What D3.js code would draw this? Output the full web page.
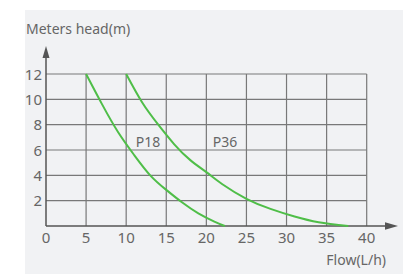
<!DOCTYPE html>
<html>
<head>
<meta charset="utf-8">
<script src="https://cdn.jsdelivr.net/npm/d3@7"></script>
<style>
  body { margin: 0; background: #fff; }
  text { font-family: "Noto Sans", "Open Sans", sans-serif; fill: #666; }
</style>
</head>
<body>
<script>
// curve data
var p18Flow = [5, 7, 9, 11, 13, 15, 17, 19, 21, 22.3]
var p18Head = [12, 9.6, 7.4, 5.6, 4.0, 2.85, 1.85, 1.0, 0.35, 0]
var p36Flow = [10, 12, 14, 16, 18, 20, 22, 25, 28, 31, 34, 37.7]
var p36Head = [12, 9.75, 8.0, 6.45, 5.2, 4.25, 3.3, 2.15, 1.35, 0.75, 0.3, 0]
var xTicks = [0, 5, 10, 15, 20, 25, 30, 35, 40]
var yTicks = [2, 4, 6, 8, 10, 12]
var curveNames = ["P18", "P36"]
var labelFlow = [11.2, 20.8]

var width = 411, height = 274
var svg = d3.select("body").append("svg")
  .attr("width", width)
  .attr("height", height)

svg.append("rect")
  .attr("x", 25).attr("y", 10)
  .attr("width", 378).attr("height", 264)
  .attr("fill", "#f1f2f4")

var x = d3.scaleLinear().domain([0, 40]).range([46, 366.7])
var y = d3.scaleLinear().domain([0, 12]).range([226, 74])

// grid
svg.append("g").selectAll("line")
  .data(xTicks.slice(1))
  .join("line")
  .attr("x1", d => x(d)).attr("x2", d => x(d))
  .attr("y1", y(0)).attr("y2", y(12))
  .attr("stroke", "#787878")
  .attr("stroke-width", 1.2)

svg.append("g").selectAll("line")
  .data(yTicks)
  .join("line")
  .attr("x1", x(0)).attr("x2", x(40))
  .attr("y1", d => y(d)).attr("y2", d => y(d))
  .attr("stroke", "#787878")
  .attr("stroke-width", 1.2)

// axes with arrows
var axisColor = "#555"
svg.append("line")
  .attr("x1", x(0)).attr("x2", 390)
  .attr("y1", y(0)).attr("y2", y(0))
  .attr("stroke", axisColor).attr("stroke-width", 1.5)
svg.append("path")
  .attr("d", d3.line()([[385, y(0) - 3.8], [398, y(0)], [385, y(0) + 3.8]]) + "Z")
  .attr("fill", axisColor)

svg.append("line")
  .attr("x1", x(0)).attr("x2", x(0))
  .attr("y1", y(0)).attr("y2", 52)
  .attr("stroke", axisColor).attr("stroke-width", 1.5)
svg.append("path")
  .attr("d", d3.line()([[x(0) - 3.5, 58], [x(0), 46], [x(0) + 3.5, 58]]) + "Z")
  .attr("fill", axisColor)

// tick labels
svg.append("g").selectAll("text")
  .data(xTicks)
  .join("text")
  .attr("x", d => x(d))
  .attr("y", 243)
  .attr("text-anchor", "middle")
  .attr("font-size", 15)
  .text(d => d)

svg.append("g").selectAll("text")
  .data(yTicks)
  .join("text")
  .attr("x", 42)
  .attr("y", d => y(d) + 5.5)
  .attr("text-anchor", "end")
  .attr("font-size", 15)
  .text(d => d)

svg.append("text")
  .attr("x", 26).attr("y", 34)
  .attr("font-size", 14)
  .text("Meters head(m)")

svg.append("text")
  .attr("x", 386).attr("y", 265)
  .attr("text-anchor", "end")
  .attr("font-size", 14)
  .text("Flow(L/h)")

// pump curves
var line = d3.line()
  .x(d => x(d[0]))
  .y(d => y(d[1]))
  .curve(d3.curveNatural)

var series = [d3.zip(p18Flow, p18Head), d3.zip(p36Flow, p36Head)]
svg.append("g").selectAll("path")
  .data(series)
  .join("path")
  .attr("d", line)
  .attr("fill", "none")
  .attr("stroke", "#4fbe48")
  .attr("stroke-width", 2)

svg.append("g").selectAll("text")
  .data(curveNames)
  .join("text")
  .attr("x", (d, i) => x(labelFlow[i]))
  .attr("y", y(6) - 3)
  .attr("font-size", 14)
  .text(d => d)
</script>
</body>
</html>
